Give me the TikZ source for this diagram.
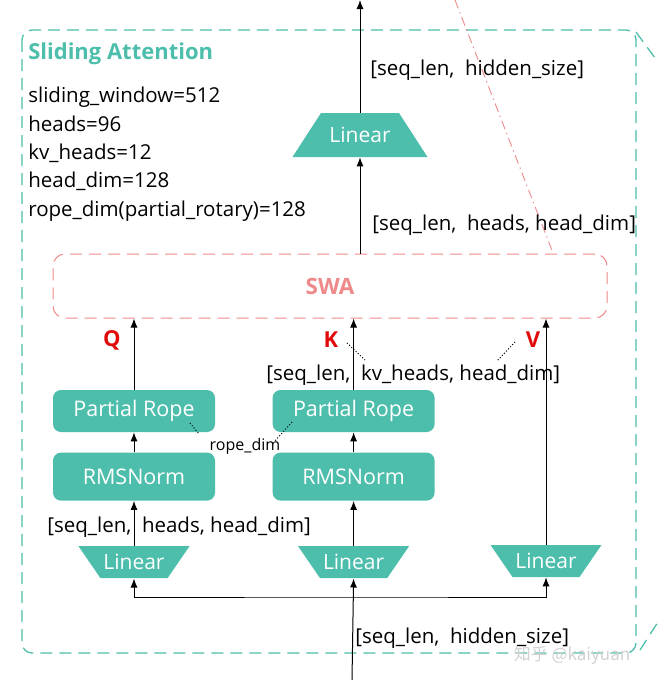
\documentclass[tikz,border=0pt]{standalone}
\usepackage{fontspec}
\setmainfont{Open Sans}
\newfontfamily\cjk{Noto Sans CJK SC}
\usetikzlibrary{positioning,arrows.meta}
\definecolor{tealfill}{HTML}{4DBEAB}
\definecolor{swapink}{HTML}{EE8A8A}
\definecolor{qkvred}{HTML}{E00A0A}

\begin{document}
\begin{tikzpicture}[x=1pt,y=-1pt,>={Latex[length=9pt,width=7pt]},semithick,
  block/.style={fill=tealfill,rounded corners=8pt,text=white,minimum width=162pt,
    font=\fontsize{21.5}{24}\selectfont},
  linup/.style={minimum width=135pt,minimum height=44pt,inner sep=0pt,text=white,
    font=\fontsize{21}{24}\selectfont,
    path picture={\fill[tealfill] ([xshift=28.5pt]path picture bounding box.north west)
      -- ([xshift=-28.5pt]path picture bounding box.north east)
      -- (path picture bounding box.south east)
      -- (path picture bounding box.south west) -- cycle;}},
  lindown/.style={minimum width=111pt,minimum height=32pt,inner sep=0pt,text=white,
    font=\fontsize{21}{24}\selectfont,
    path picture={\fill[tealfill] (path picture bounding box.north west)
      -- (path picture bounding box.north east)
      -- ([xshift=-22pt]path picture bounding box.south east)
      -- ([xshift=22pt]path picture bounding box.south west) -- cycle;}},
  flow/.style={->,line width=1pt},
  dims/.style={anchor=west,inner sep=0pt,font=\fontsize{20.5}{24}\selectfont},
  qkv/.style={text=qkvred,font=\bfseries\fontsize{22}{24}\selectfont},
  note/.style={dotted,line width=1pt}]
\useasboundingbox (0,0) rectangle (658,680);

% frame of the block
\draw[tealfill,dashed,dash pattern=on 12pt off 7pt,line width=1.3pt,rounded corners=10pt]
  (22,30) rectangle (636,653);
\draw[tealfill,dashed,dash pattern=on 12pt off 7pt,line width=1.3pt] (636,32) -- (658,62);
\draw[tealfill,dashed,dash pattern=on 12pt off 7pt,line width=1.3pt] (640,650) -- (658,622);

\node[anchor=west,inner sep=0pt,text=tealfill,font=\bfseries\fontsize{22}{26}\selectfont]
  (title) at (28,54) {Sliding Attention};
\node[anchor=north west,inner sep=0pt,align=left,font=\fontsize{20.5}{28.3}\selectfont]
  (params) at (28,87) {sliding\_window=512\\heads=96\\kv\_heads=12\\head\_dim=128\\rope\_dim(partial\_rotary)=128};

% attention core
\node[draw=swapink,dashed,dash pattern=on 12pt off 7pt,line width=1pt,rounded corners=12pt,
  minimum width=554pt,minimum height=64pt,text=swapink,
  font=\bfseries\fontsize{22.5}{26}\selectfont] (swa) at (330,286) {SWA};
\node[linup] (linOut) at (360,135) {Linear};

\node[block,minimum height=42pt] (ropeQ) at (134,411) {Partial Rope};
\node[block,minimum height=42pt,right=57pt of ropeQ] (ropeK) {Partial Rope};
\node[block,minimum height=48pt,below=20pt of ropeQ] (normQ) {RMSNorm};
\node[block,minimum height=48pt,below=20pt of ropeK] (normK) {RMSNorm};
\node[lindown,below=45pt of normQ] (linQ) {Linear};
\node[lindown,below=45pt of normK] (linK) {Linear};
\node[lindown] (linV) at (546,561) {Linear};

\coordinate (out) at (360,0);
\coordinate (in) at (352,680);
\coordinate (bus) at (352,597);
\coordinate (cutTop) at (455,0);
\coordinate (cutEnd) at (553,253);

\draw[swapink,dash pattern=on 9pt off 4pt on 1.5pt off 4pt,line width=0.9pt] (cutTop) -- (cutEnd);

\draw[flow] (linOut.north) -- (out);
\draw[flow] (swa.north -| linOut) -- (linOut.south);
\draw[flow] (ropeQ.north) -- (ropeQ |- swa.south);
\draw[flow] (ropeK.north) -- (ropeK |- swa.south);
\draw[flow] (linV.north) -- (linV |- swa.south);
\draw[flow] (normQ) -- (ropeQ);
\draw[flow] (normK) -- (ropeK);
\draw[flow] (linQ) -- (normQ);
\draw[flow] (linK) -- (normK);
\draw[flow] (in) -- (linK.south);
\draw[flow,<->] (linQ.south) |- (bus) -| (linV.south);

\node[qkv] (qLbl) at (112,340) {Q};
\node[qkv] (kLbl) at (331,340) {K};
\node[qkv] (vLbl) at (533,340) {V};

\node[dims] (dimOut) at (370,70) {[seq\_len,\ \ hidden\_size]};
\node[dims] (dimAttn) at (372,225) {[seq\_len,\ \ heads, head\_dim]};
\node[dims] (dimKV) at (266,375) {[seq\_len,\ \ kv\_heads, head\_dim]};
\node[dims] (dimQ) at (47,527) {[seq\_len,\ \ heads, head\_dim]};
\node[dims] (dimIn) at (355,638) {[seq\_len,\ \ hidden\_size]};
\node[inner sep=0pt,font=\fontsize{16}{18}\selectfont] (ropeDim) at (245,446) {rope\_dim};

\draw[note] (347,343) -- (365,360);
\draw[note] (515,342) -- (497,361);
\draw[note] (190,423) -- (199,434);
\draw[note] (292,422) -- (275,441);

\node[text=gray!35,font=\cjk\fontsize{17}{20}\selectfont] (mark) at (572,655) {知乎 @kaiyuan};
\end{tikzpicture}
\end{document}
